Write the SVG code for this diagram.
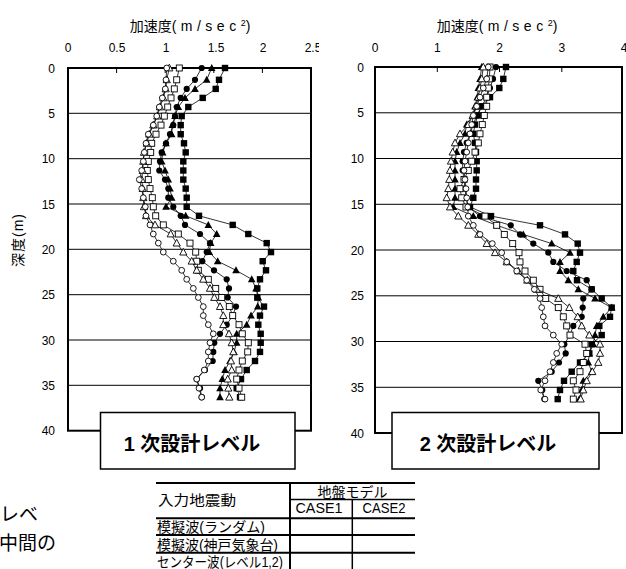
<svg xmlns="http://www.w3.org/2000/svg" width="626" height="569" viewBox="0 0 626 569">
<style>
text{font-family:"Liberation Sans","Noto Sans CJK JP",Arial,sans-serif;fill:#000}
.t12{font-size:12px}
.ttl{font-size:14px}
.frame{fill:none;stroke:#000;stroke-width:2}
.grid{stroke:#000;stroke-width:1}
.s{fill:none;stroke:#000;stroke-width:0.8}
.fc{marker-start:url(#fc);marker-mid:url(#fc);marker-end:url(#fc)}
.oc{marker-start:url(#oc);marker-mid:url(#oc);marker-end:url(#oc)}
.ft{marker-start:url(#ft);marker-mid:url(#ft);marker-end:url(#ft)}
.ot{marker-start:url(#ot);marker-mid:url(#ot);marker-end:url(#ot)}
.fs{marker-start:url(#fs);marker-mid:url(#fs);marker-end:url(#fs)}
.os{marker-start:url(#os);marker-mid:url(#os);marker-end:url(#os)}
.lbl{fill:#fff;stroke:#000;stroke-width:1.5}
.big{font-size:20px;font-weight:bold;text-anchor:middle}
.tb{stroke:#000;stroke-width:2}
.tb1{stroke:#000;stroke-width:1.5}
.cell{font-size:14px}
</style>
<defs>
<marker id="fc" viewBox="-5 -5 10 10" markerWidth="10" markerHeight="10" refX="0" refY="0" markerUnits="userSpaceOnUse" overflow="visible"><circle r="3.1" fill="#000"/></marker>
<marker id="oc" viewBox="-5 -5 10 10" markerWidth="10" markerHeight="10" refX="0" refY="0" markerUnits="userSpaceOnUse" overflow="visible"><circle r="2.9" fill="#fff" stroke="#000" stroke-width="0.9"/></marker>
<marker id="ft" viewBox="-5 -5 10 10" markerWidth="10" markerHeight="10" refX="0" refY="0" markerUnits="userSpaceOnUse" overflow="visible"><polygon points="0,-4 3.8,3 -3.8,3" fill="#000"/></marker>
<marker id="ot" viewBox="-5 -5 10 10" markerWidth="10" markerHeight="10" refX="0" refY="0" markerUnits="userSpaceOnUse" overflow="visible"><polygon points="0,-3.8 3.6,2.9 -3.6,2.9" fill="#fff" stroke="#000" stroke-width="0.9"/></marker>
<marker id="fs" viewBox="-5 -5 10 10" markerWidth="10" markerHeight="10" refX="0" refY="0" markerUnits="userSpaceOnUse" overflow="visible"><rect x="-3.2" y="-3.2" width="6.4" height="6.4" fill="#000"/></marker>
<marker id="os" viewBox="-5 -5 10 10" markerWidth="10" markerHeight="10" refX="0" refY="0" markerUnits="userSpaceOnUse" overflow="visible"><rect x="-3" y="-3" width="6" height="6" fill="#fff" stroke="#000" stroke-width="0.9"/></marker>
<clipPath id="clipL"><rect x="0" y="0" width="319" height="569"/></clipPath>
</defs>

<!-- Left chart -->
<g id="chart-left">
<text class="ttl" x="190" y="31" text-anchor="middle">加速度<tspan letter-spacing="4.5">(m/sec</tspan><tspan font-size="9" dy="-5">2</tspan><tspan dy="5">)</tspan></text>
<g class="t12" text-anchor="middle" clip-path="url(#clipL)">
<text x="68" y="52">0</text><text x="117" y="52">0.5</text><text x="166" y="52">1</text><text x="216" y="52">1.5</text><text x="263" y="52">2</text><text x="313" y="52">2.5</text>
</g>
<g class="t12" text-anchor="end">
<text x="55" y="72.5">0</text><text x="55" y="117.8">5</text><text x="55" y="163.2">10</text><text x="55" y="208.5">15</text><text x="55" y="253.8">20</text><text x="55" y="299.2">25</text><text x="55" y="344.5">30</text><text x="55" y="389.8">35</text><text x="55" y="435.2">40</text>
</g>
<text class="ttl" transform="translate(23,240) rotate(-90)" text-anchor="middle" font-size="13" letter-spacing="1">深度(m)</text>
<g class="grid">
<line x1="68" y1="113.3" x2="311" y2="113.3"/><line x1="68" y1="158.7" x2="311" y2="158.7"/><line x1="68" y1="204" x2="311" y2="204"/><line x1="68" y1="249.3" x2="311" y2="249.3"/><line x1="68" y1="294.7" x2="311" y2="294.7"/><line x1="68" y1="340" x2="311" y2="340"/><line x1="68" y1="385.3" x2="311" y2="385.3"/>
<line x1="116.6" y1="68" x2="116.6" y2="73"/><line x1="165.2" y1="68" x2="165.2" y2="73"/><line x1="213.8" y1="68" x2="213.8" y2="73"/><line x1="262.4" y1="68" x2="262.4" y2="73"/>
</g>
<rect class="frame" x="68" y="68" width="243" height="362.7"/>
</g>

<!-- Right chart -->
<g id="chart-right">
<text class="ttl" x="497" y="31" text-anchor="middle">加速度<tspan letter-spacing="4.5">(m/sec</tspan><tspan font-size="9" dy="-5">2</tspan><tspan dy="5">)</tspan></text>
<g class="t12" text-anchor="middle">
<text x="375" y="52">0</text><text x="437.3" y="52">1</text><text x="499.5" y="52">2</text><text x="561.8" y="52">3</text><text x="624" y="52">4</text>
</g>
<g class="t12" text-anchor="end">
<text x="364" y="71.5">0</text><text x="364" y="117.3">5</text><text x="364" y="163">10</text><text x="364" y="208.8">15</text><text x="364" y="254.5">20</text><text x="364" y="300.3">25</text><text x="364" y="346">30</text><text x="364" y="391.8">35</text><text x="364" y="437.5">40</text>
</g>
<g class="grid">
<line x1="375" y1="112.8" x2="622" y2="112.8"/><line x1="375" y1="158.5" x2="622" y2="158.5"/><line x1="375" y1="204.3" x2="622" y2="204.3"/><line x1="375" y1="250" x2="622" y2="250"/><line x1="375" y1="295.8" x2="622" y2="295.8"/><line x1="375" y1="341.5" x2="622" y2="341.5"/><line x1="375" y1="387.3" x2="622" y2="387.3"/>
<line x1="437.3" y1="67" x2="437.3" y2="72"/><line x1="499.5" y1="67" x2="499.5" y2="72"/><line x1="561.8" y1="67" x2="561.8" y2="72"/>
</g>
<rect class="frame" x="375" y="67" width="247" height="366"/>
</g>

<!-- Connectors: data series -->
<g id="series">
<polyline class="s fs" points="225,68 219,79.8 215.7,88.9 202.7,97.9 188.3,107 181.7,116.1 180.7,125.1 180.7,134.2 184,143.3 185.7,152.4 183.3,161.4 183.3,170.5 183.3,179.6 185.7,188.6 186.7,197.7 186.7,206.8 199,215.8 232.7,224.9 248.3,234 266.7,243.1 271,252.1 262.7,261.2 266,270.3 260,279.3 257.3,288.4 257.3,297.5 264,306.6 260,315.6 258.3,324.7 260.7,333.8 260.7,342.8 260,351.9 255,361 246.7,370 241,379.1 236.7,388.2 240,397.2"/>
<polyline class="s ft" points="211.7,68 206.7,79.8 195,88.9 185,97.9 178.3,107 175,116.1 172.3,125.1 171.7,134.2 166,143.3 162.7,152.4 161.7,161.4 165,170.5 168.3,179.6 170,188.6 171.7,197.7 166,206.8 185.7,215.8 208.3,224.9 216.7,234 210.7,243.1 209.3,252.1 217.7,261.2 236,270.3 251.7,279.3 256,288.4 258.3,297.5 257.7,306.6 251,315.6 246.7,324.7 236.7,333.8 236.7,342.8 234,351.9 230,361 225,370 222.3,379.1 220,388.2 220,397.2"/>
<polyline class="s fc" points="201.7,68 195,79.8 186.7,88.9 180.7,97.9 176.7,107 175,116.1 173.3,125.1 170,134.2 166,143.3 161.7,152.4 160,161.4 159.3,170.5 165,179.6 168.3,188.6 168.3,197.7 173.3,206.8 180.7,215.8 185,224.9 200,234 210,243.1 206.7,252.1 202.3,261.2 214,270.3 226.7,279.3 229,288.4 227.7,297.5 236,306.6 232.7,315.6 226.7,324.7 220,333.8 214.3,342.8 213.3,351.9 212.7,361 205,370 196.7,379.1 200,388.2 201.7,397.2"/>
<polyline class="s os" points="179.3,68 176.7,79.8 174.3,88.9 171,97.9 167.7,107 164.3,116.1 161,125.1 156,134.2 151.7,143.3 150.7,152.4 148.3,161.4 147.3,170.5 148.3,179.6 150,188.6 152.3,197.7 153.3,206.8 155.7,215.8 163.3,224.9 178.3,234 190,243.1 195.7,252.1 196.7,261.2 198.3,270.3 208.3,279.3 215.7,288.4 221.7,297.5 229.3,306.6 232.7,315.6 239,324.7 242.3,333.8 248.3,342.8 247.7,351.9 242.3,361 239,370 236.7,379.1 239,388.2 241.7,397.2"/>
<polyline class="s ot" points="169.3,68 166.7,79.8 165.7,88.9 163.3,97.9 160,107 157.3,116.1 153.3,125.1 149.3,134.2 146.7,143.3 144,152.4 143.3,161.4 142.7,170.5 141.7,179.6 142.7,188.6 143.3,197.7 144,206.8 146,215.8 155,224.9 170.7,234 176.7,243.1 183.3,252.1 191.7,261.2 196.7,270.3 203.3,279.3 210,288.4 214.3,297.5 220,306.6 223.3,315.6 223.3,324.7 229,333.8 231.7,342.8 233.3,351.9 231,361 231.7,370 227.7,379.1 228.3,388.2 229.3,397.2"/>
<polyline class="s oc" points="166.7,68 166,79.8 165.3,88.9 162.3,97.9 159.3,107 156.7,116.1 153.3,125.1 148.3,134.2 146,143.3 144.3,152.4 143.3,161.4 141.7,170.5 139.3,179.6 141.7,188.6 143.3,197.7 145.3,206.8 146,215.8 150,224.9 153.3,234 158.3,243.1 163.3,252.1 173.3,261.2 181.7,270.3 186.7,279.3 193.3,288.4 198.3,297.5 203.3,306.6 203.3,315.6 208.3,324.7 213.3,333.8 210,342.8 208.3,351.9 208.3,361 204.3,370 196.7,379.1 199,388.2 201.7,397.2"/>

<polyline class="s fs" points="506,67 503.3,78.9 499.3,88 490,97.2 481.7,106.3 477.7,115.5 475,124.6 473.3,133.8 475,142.9 476,152.1 476.7,161.2 476.7,170.4 476,179.5 476,188.7 473.3,197.8 470,207 491,216.1 540,225.3 565,234.4 577.7,243.6 580,252.7 576.7,261.9 573.3,271 577,280.2 591.7,289.3 601.7,298.5 611.7,307.6 610,316.8 599.3,325.9 601.7,335.1 591.7,344.2 589.3,353.4 580,362.5 571.7,371.7 564,380.8 560,390 557.7,399.1"/>
<polyline class="s ft" points="481.7,67 480,78.9 478.3,88 477.3,97.2 475,106.3 472.7,115.5 466.7,124.6 465,133.8 460,142.9 456.7,152.1 455,161.2 455,170.4 455,179.5 455,188.7 455,197.8 453.3,207 473.3,216.1 496.7,225.3 523.3,234.4 551.7,243.6 570,252.7 560,261.9 560,271 568.3,280.2 578.3,289.3 595,298.5 611.7,307.6 603.3,316.8 596.7,325.9 595,335.1 593.3,344.2 589.3,353.4 588.3,362.5 591.7,371.7 583.3,380.8 581.7,390 579.3,399.1"/>
<polyline class="s fc" points="496,67 493,78.9 490,88 486.7,97.2 481.7,106.3 476.7,115.5 473.3,124.6 470,133.8 466.7,142.9 464,152.1 462.7,161.2 462.7,170.4 464,179.5 465,188.7 466,197.8 468.3,207 480,216.1 510.7,225.3 520,234.4 533.3,243.6 548.3,252.7 553.3,261.9 566.7,271 586.7,280.2 591.7,289.3 583.3,298.5 582.7,307.6 581.7,316.8 573.3,325.9 570,335.1 564.3,344.2 565.7,353.4 559,362.5 551.7,371.7 538.3,380.8 542.3,390 544.3,399.1"/>
<polyline class="s os" points="490,67 489.3,78.9 488.3,88 486.7,97.2 486.7,106.3 484.3,115.5 482.3,124.6 480,133.8 478.3,142.9 475,152.1 471.7,161.2 468.3,170.4 464,179.5 460,188.7 461.7,197.8 466,207 485,216.1 496.7,225.3 504.3,234.4 512.7,243.6 519,252.7 520,261.9 525,271 533.3,280.2 540,289.3 545.7,298.5 558.3,307.6 563.3,316.8 566.7,325.9 570,335.1 585,344.2 586.7,353.4 583.3,362.5 580,371.7 573.3,380.8 576,390 573.3,399.1"/>
<polyline class="s ot" points="483.3,67 481.7,78.9 480,88 478.3,97.2 476,106.3 472.7,115.5 468.3,124.6 460,133.8 455,142.9 452.7,152.1 451,161.2 450,170.4 449.3,179.5 448.3,188.7 446.7,197.8 450,207 458.3,216.1 468.3,225.3 478.3,234.4 486.7,243.6 495,252.7 506.7,261.9 518.3,271 527.3,280.2 536.7,289.3 558.3,298.5 569.3,307.6 577.7,316.8 581.7,325.9 589.3,335.1 600,344.2 600,353.4 598.3,362.5 592.3,371.7 586.7,380.8 583.3,390 580.7,399.1"/>
<polyline class="s oc" points="488.3,67 486.7,78.9 483.3,88 480,97.2 476.7,106.3 473.3,115.5 471.7,124.6 470,133.8 468.3,142.9 466.7,152.1 465,161.2 464,170.4 465,179.5 466,188.7 466.7,197.8 467.7,207 468.3,216.1 473.3,225.3 480,234.4 492.3,243.6 501.7,252.7 506.7,261.9 516.7,271 526.7,280.2 534.3,289.3 540,298.5 541.7,307.6 543.3,316.8 545,325.9 553.3,335.1 561.7,344.2 556.7,353.4 553.3,362.5 550,371.7 545,380.8 540.7,390 545,399.1"/>
</g>

<!-- Level label boxes -->
<g id="label-level1">
<rect class="lbl" x="100.5" y="412.5" width="194.5" height="56.5"/>
<text class="big" x="192" y="451">1 次設計レベル</text>
</g>
<g id="label-level2">
<rect class="lbl" x="392" y="412.5" width="207" height="56.5"/>
<text class="big" x="488" y="451">2 次設計レベル</text>
</g>

<!-- Partial body text -->
<g id="body-text">
<text x="0" y="521" font-size="19">レベ</text>
<text x="-1" y="550" font-size="19">中間の</text>
</g>

<!-- Legend table -->
<g id="legend-table">
<line class="tb" x1="156" y1="483" x2="415" y2="483"/>
<line class="tb1" x1="290" y1="499.5" x2="415" y2="499.5"/>
<line class="tb" x1="156" y1="518.3" x2="415" y2="518.3"/>
<line class="tb" x1="156" y1="535" x2="415" y2="535"/>
<line class="tb" x1="156" y1="552.7" x2="415" y2="552.7"/>
<line class="tb" x1="290" y1="483" x2="290" y2="569"/>
<line class="tb1" x1="352.3" y1="499.5" x2="352.3" y2="569"/>
<text class="cell" x="158" y="505" font-size="15" textLength="78" lengthAdjust="spacingAndGlyphs">入力地震動</text>
<text class="cell" x="352.5" y="496.5" text-anchor="middle" font-size="14">地盤モデル</text>
<text x="319" y="513" font-size="15" text-anchor="middle" textLength="47" lengthAdjust="spacingAndGlyphs">CASE1</text>
<text x="384" y="513" font-size="15" text-anchor="middle" textLength="43" lengthAdjust="spacingAndGlyphs">CASE2</text>
<text class="cell" x="157" y="532" textLength="108" lengthAdjust="spacingAndGlyphs">模擬波(ランダム)</text>
<text class="cell" x="157" y="550" textLength="121" lengthAdjust="spacingAndGlyphs">模擬波(神戸気象台)</text>
<text class="cell" x="157" y="567" textLength="126" lengthAdjust="spacingAndGlyphs">センター波(レベル1,2)</text>
</g>
</svg>
